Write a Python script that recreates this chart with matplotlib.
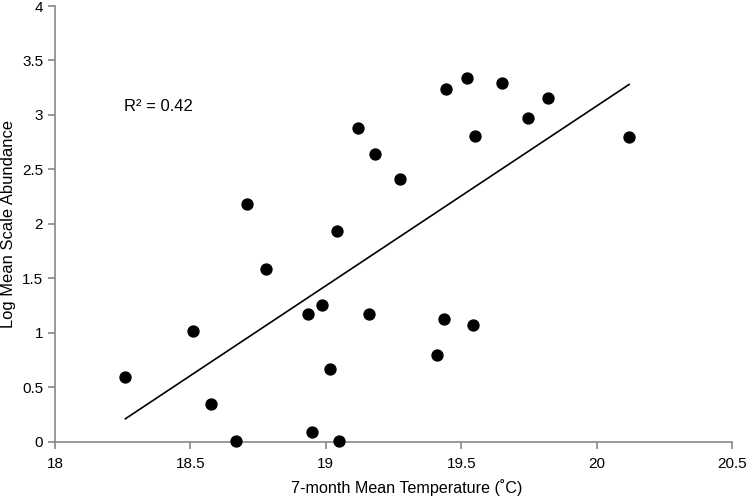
import matplotlib.pyplot as plt
import numpy as np

plt.rcParams["font.family"] = ["Liberation Sans", "DejaVu Sans"]

temperature = [18.26, 18.51, 18.575, 18.67, 18.71, 18.78, 18.935, 18.95, 18.985,
               19.015, 19.04, 19.05, 19.12, 19.16, 19.18, 19.275, 19.41, 19.435,
               19.445, 19.52, 19.545, 19.55, 19.65, 19.745, 19.82, 20.12]
abundance = [0.60, 1.02, 0.35, 0.005, 2.18, 1.59, 1.175, 0.095, 1.26,
             0.67, 1.94, 0.01, 2.885, 1.175, 2.645, 2.41, 0.80, 1.13,
             3.235, 3.335, 1.075, 2.81, 3.29, 2.97, 3.16, 2.795]

x = np.array(temperature)
y = np.array(abundance)
# linear trend line, like the spreadsheet one
slope, intercept = np.polyfit(x, y, 1)

fig = plt.figure(figsize=(7.51, 4.96), dpi=100)
ax = fig.add_axes([0.0732, 0.1089, 0.9015, 0.879])

ax.scatter(x, y, s=62, color="black", zorder=3, clip_on=False)
xl = np.array([x.min(), x.max()])
ax.plot(xl, slope * xl + intercept, color="black", linewidth=1.2)

ax.text(18.255, 3.08, "R² = 0.42", fontsize=12, va="center", ha="left")

ax.set_xlim(18, 20.5)
ax.set_ylim(0, 4)
ax.set_xticks([18, 18.5, 19, 19.5, 20, 20.5])
ax.set_xticklabels(["18", "18.5", "19", "19.5", "20", "20.5"])
ax.set_yticks([0, 0.5, 1, 1.5, 2, 2.5, 3, 3.5, 4])
ax.set_yticklabels(["0", "0.5", "1", "1.5", "2", "2.5", "3", "3.5", "4"])

ax.spines["top"].set_visible(False)
ax.spines["right"].set_visible(False)
for s in ["left", "bottom"]:
    ax.spines[s].set_color("#888888")
    ax.spines[s].set_linewidth(1.2)
ax.tick_params(colors="#888888", labelcolor="black", labelsize=11, length=5, width=1.2)
ax.tick_params(axis="x", pad=6)

ax.set_xlabel("7-month Mean Temperature (˚C)", fontsize=11.6)
ax.set_ylabel("Log Mean Scale Abundance", fontsize=11.9, labelpad=4)
ax.xaxis.set_label_coords(0.52, -0.086)

fig.savefig("out.png", dpi=100)
